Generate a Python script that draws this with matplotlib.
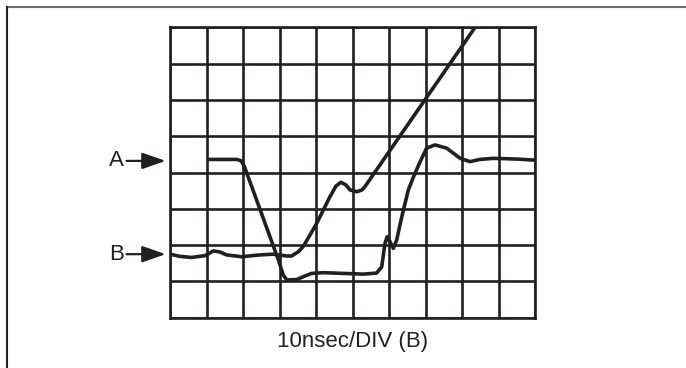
import matplotlib
matplotlib.use("Agg")
import matplotlib.pyplot as plt
from matplotlib.lines import Line2D

# trace values in screen divisions (x: 0-10, y: 0-8)
trace_a_x = [1.05, 1.83, 1.95, 2.04, 2.97, 3.10, 3.20, 3.47, 3.70, 3.88, 4.20, 5.30, 5.66,
             5.80, 5.89, 5.95, 6.03, 6.12, 6.21, 6.35, 6.53, 6.67, 6.85, 7.03, 7.26, 7.58,
             7.95, 8.22, 8.49, 8.86, 9.50, 10.0]
trace_a_y = [4.36, 4.36, 4.32, 4.16, 1.59, 1.18, 1.04, 1.05, 1.15, 1.22, 1.24, 1.20, 1.23,
             1.40, 2.05, 2.23, 2.09, 1.91, 2.14, 2.78, 3.52, 3.88, 4.29, 4.67, 4.76, 4.67,
             4.39, 4.30, 4.36, 4.39, 4.37, 4.34]

trace_b_x = [0.0, 0.27, 0.59, 0.96, 1.19, 1.37, 1.55, 1.96, 2.47, 2.83, 3.20, 3.33, 3.52,
             3.65, 4.02, 4.38, 4.55, 4.68, 4.82, 4.93, 5.12, 5.26, 5.34, 8.40]
trace_b_y = [1.75, 1.69, 1.66, 1.71, 1.84, 1.81, 1.73, 1.68, 1.73, 1.75, 1.70, 1.70, 1.82,
             1.96, 2.60, 3.33, 3.63, 3.73, 3.66, 3.52, 3.47, 3.52, 3.61, 8.06]

level_a = 4.32
level_b = 1.75
x_label = "10nsec/DIV (B)"

ink = "#231f20"

fig = plt.figure(figsize=(6.86, 3.68), dpi=100)
ax = fig.add_axes([170 / 686, 1 - 317.7 / 368, 365 / 686, 290.4 / 368])

ax.set_xlim(0, 10)
ax.set_ylim(0, 8)
ax.set_xticks(range(11))
ax.set_yticks(range(9))
ax.tick_params(length=0, labelbottom=False, labelleft=False)
ax.grid(True, color=ink, lw=1.9)
for spine in ax.spines.values():
    spine.set_color(ink)
    spine.set_linewidth(1.9)

ax.plot(trace_a_x, trace_a_y, color=ink, lw=2.6, solid_joinstyle="round", solid_capstyle="round")
ax.plot(trace_b_x, trace_b_y, color=ink, lw=2.6, solid_joinstyle="round", solid_capstyle="round")

for name, level in [("A", level_a), ("B", level_b)]:
    ax.annotate("", xy=(-0.12, level), xytext=(-1.19, level),
                arrowprops=dict(arrowstyle="-|>,head_length=0.8,head_width=0.28",
                                mutation_scale=18, lw=1.6, color=ink,
                                shrinkA=0, shrinkB=0),
                annotation_clip=False)
    ax.text(-1.46, level, name, ha="center", va="center", fontsize=16,
            family="Liberation Sans", color=ink, clip_on=False)

fig.text(353 / 686, 1 - 342 / 368, x_label, ha="center", va="center", fontsize=16,
         family="Liberation Sans", color=ink)

# frame around the figure (top and left edges only)
fig.add_artist(Line2D([7 / 686, 1], [1 - 7 / 368, 1 - 7 / 368], color="#707070", lw=1.5))
fig.add_artist(Line2D([7 / 686, 7 / 686], [0, 1 - 7 / 368], color="#222222", lw=1.5))

fig.savefig("out.png", dpi=100)
